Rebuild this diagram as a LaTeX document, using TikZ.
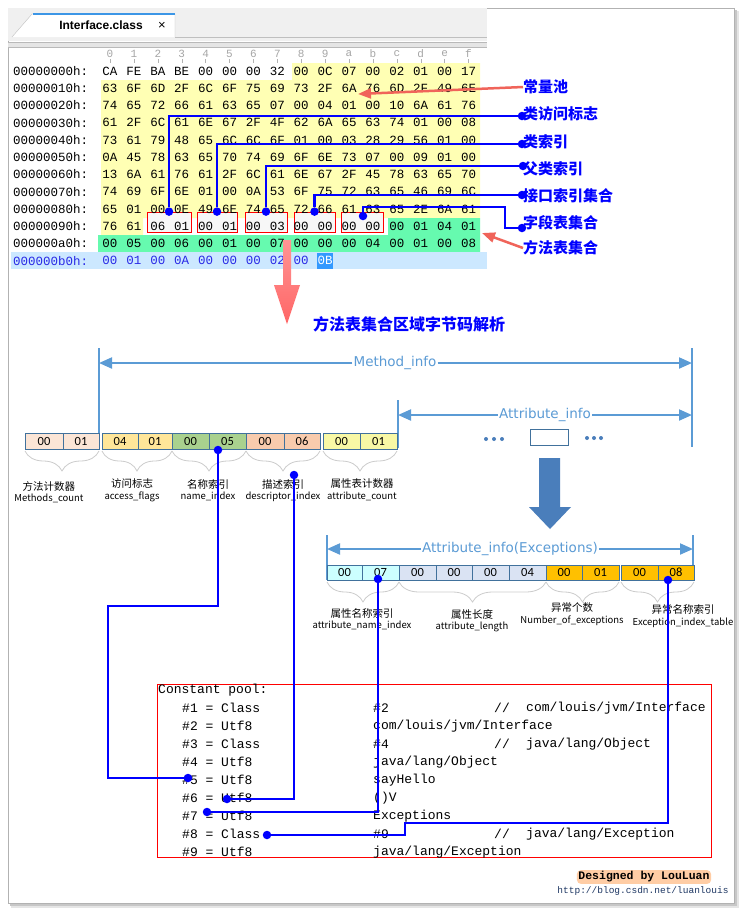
\documentclass[tikz,border=0pt]{standalone}
\usepackage{fontspec}
\setmainfont{Liberation Sans}
\newfontfamily\hexfont{Liberation Mono}
\newfontfamily\cjkfont{Noto Sans CJK SC}
\newfontfamily\boxfont{Carlito}
\newfontfamily\infofont{DejaVu Sans}
\usetikzlibrary{arrows.meta,decorations.pathreplacing,positioning}

\definecolor{hexyellow}{RGB}{255,255,180}
\definecolor{hexgreen}{RGB}{102,250,175}
\definecolor{hexrowblue}{RGB}{204,232,255}
\definecolor{hextextblue}{RGB}{40,40,230}
\definecolor{selblue}{RGB}{51,153,255}
\definecolor{tabblue}{RGB}{60,150,230}
\definecolor{linkblue}{RGB}{0,0,255}
\definecolor{pointred}{RGB}{240,100,90}
\definecolor{arrowred}{RGB}{255,102,102}
\definecolor{arrowblue}{RGB}{74,126,187}
\definecolor{infoblue}{RGB}{91,155,213}
\definecolor{boxedge}{RGB}{65,113,156}
\definecolor{peach}{RGB}{251,229,214}
\definecolor{flagyellow}{RGB}{255,230,153}
\definecolor{namegreen}{RGB}{169,209,142}
\definecolor{descsalmon}{RGB}{248,203,173}
\definecolor{countyellow}{RGB}{248,248,165}
\definecolor{attrcyan}{RGB}{204,255,255}
\definecolor{lenlav}{RGB}{218,227,243}
\definecolor{excgold}{RGB}{255,192,0}
\definecolor{glow}{RGB}{255,205,165}
\definecolor{urlblue}{RGB}{31,56,100}

\begin{document}
\begin{tikzpicture}[x=1pt,y=-1pt,
  hex addr/.style={anchor=west,inner sep=0pt,font=\hexfont\fontsize{12.5}{12.5}\selectfont},
  hex byte/.style={inner sep=0pt,font=\hexfont\fontsize{12.5}{12.5}\selectfont},
  hex head/.style={inner sep=0pt,text=gray!70,font=\hexfont\fontsize{11}{11}\selectfont},
  red box/.style={draw=red,line width=0.8pt,fill=gray!6,minimum height=20pt,inner sep=0pt},
  side label/.style={anchor=west,inner sep=0pt,text=linkblue,font=\cjkfont\bfseries\fontsize{15}{15}\selectfont},
  link/.style={draw=linkblue,line width=2.2pt},
  link dot/.style={circle,fill=linkblue,inner sep=0pt,minimum size=8.5pt},
  red pointer/.style={draw=pointred,line width=2.5pt,-{Triangle[length=13pt,width=10pt]}},
  byte box/.style={draw=boxedge,line width=0.8pt,minimum height=16pt,inner sep=0pt,font=\boxfont\fontsize{12.5}{12.5}\selectfont},
  info line/.style={draw=infoblue,line width=2pt},
  info arrow/.style={info line,-{Triangle[length=13pt,width=11pt]}},
  info label/.style={fill=white,inner sep=1pt,text=infoblue,font=\infofont\fontsize{13.5}{13.5}\selectfont},
  field brace/.style={draw=gray!40,line width=0.8pt,decorate,decoration={brace,mirror,amplitude=20pt,aspect=0.5}},
  cn label/.style={inner sep=0pt,font=\cjkfont\fontsize{10.5}{10.5}\selectfont},
  en label/.style={inner sep=0pt,font=\cjkfont\fontsize{9.5}{9.5}\selectfont},
  more dot/.style={circle,fill=arrowblue,inner sep=0pt,minimum size=4pt},
  pool text/.style={anchor=west,inner sep=0pt,font=\hexfont\fontsize{13}{13}\selectfont}
]

% page with shadow
\fill[white] (0,0) rectangle (744,914);
\fill[black!10] (11,11) rectangle (739,908);
\fill[black!22] (10,10) rectangle (737,906);
\filldraw[fill=white,draw=gray!60] (8,8) rectangle (734,903);
\useasboundingbox (0,0) rectangle (744,914);

% hex editor window
\fill[gray!12] (8,8) rectangle (487,41);
\filldraw[fill=white,draw=gray!50] (12,37) -- (32,14) -- (175,14) -- (175,37);
\draw[tabblue,line width=1.5pt] (33,14) -- (175,14);
\draw[gray!50] (175,37) -- (487,37);
\node[font=\bfseries\fontsize{12}{12}\selectfont] (tab) at (101,25) {Interface.class};
\node[font=\fontsize{13}{13}\selectfont] (tabClose) at (162,26) {×};
\fill[gray!20] (8,42) rectangle (487,47);
\draw[gray!55] (8,42) -- (487,42) (8,47) -- (487,47);

% column header
\foreach \d [count=\c from 0] in {0,1,2,3,4,5,6,7,8,9,a,b,c,d,e,f}
{
  \node[hex head] (col\c) at ({110+23.9*\c},54) {\d};
  \draw[gray!60] ({110+23.9*\c},59) -- ++(0,4);
}

% regions
\fill[hexyellow] (292,63) -- (480,63) -- (480,218) -- (143,218) -- (143,235) -- (101,235) -- (101,80) -- (292,80) -- cycle;
\fill[hexgreen] (388,218) -- (480,218) -- (480,252) -- (98,252) -- (98,235) -- (388,235) -- cycle;
\fill[hexrowblue] (11,252) rectangle (487,269);
\fill[selblue] (317,252.5) rectangle (333,268.5);

% marked fields
\node[red box,minimum width=44pt] (rAcc) at (169,222) {};
\node[red box,minimum width=40pt] (rThis) at (217,222) {};
\node[red box,minimum width=42pt] (rSuper) at (266,222) {};
\node[red box,minimum width=41pt] (rIface) at (314.5,222) {};
\node[red box,minimum width=42pt] (rField) at (362,222) {};

% bytes
\foreach \r/\addr/\tc/\bytes in {
  0/00000000h:/black/{CA,FE,BA,BE,00,00,00,32,00,0C,07,00,02,01,00,17},
  1/00000010h:/black/{63,6F,6D,2F,6C,6F,75,69,73,2F,6A,76,6D,2F,49,6E},
  2/00000020h:/black/{74,65,72,66,61,63,65,07,00,04,01,00,10,6A,61,76},
  3/00000030h:/black/{61,2F,6C,61,6E,67,2F,4F,62,6A,65,63,74,01,00,08},
  4/00000040h:/black/{73,61,79,48,65,6C,6C,6F,01,00,03,28,29,56,01,00},
  5/00000050h:/black/{0A,45,78,63,65,70,74,69,6F,6E,73,07,00,09,01,00},
  6/00000060h:/black/{13,6A,61,76,61,2F,6C,61,6E,67,2F,45,78,63,65,70},
  7/00000070h:/black/{74,69,6F,6E,01,00,0A,53,6F,75,72,63,65,46,69,6C},
  8/00000080h:/black/{65,01,00,0E,49,6E,74,65,72,66,61,63,65,2E,6A,61},
  9/00000090h:/black/{76,61,06,01,00,01,00,03,00,00,00,00,00,01,04,01},
  10/000000a0h:/black/{00,05,00,06,00,01,00,07,00,00,00,04,00,01,00,08},
  11/000000b0h:/hextextblue/{00,01,00,0A,00,00,00,02,00}}
{
  \node[hex addr,text=\tc] (a\r) at (13,{71+17.25*\r}) {\addr};
  \foreach \b [count=\c from 0] in \bytes
    \node[hex byte,text=\tc] (h\r-\c) at ({110+23.9*\c},{71+17.25*\r}) {\b};
}
\node[hex byte,text=white] (h11-9) at ({110+23.9*9},{71+17.25*11}) {0B};

% labels on the right
\foreach \nm/\yy/\txt in {lPool/87/常量池, lAcc/114/类访问标志, lThis/142/类索引,
  lSuper/169/父类索引, lIface/196/接口索引集合, lField/223/字段表集合, lMethod/248/方法表集合}
  \node[side label] (\nm) at (523,\yy) {\txt};

\coordinate (poolTip) at (358,94);
\coordinate (methodTip) at (482,233);
\draw[red pointer] (lPool.west) -- (poolTip);
\draw[red pointer] (lMethod.west) -- (methodTip);

\node[link dot] (dAcc) at (rAcc.north) {};
\node[link dot] (dThis) at (rThis.north) {};
\node[link dot] (dSuper) at (rSuper.north) {};
\node[link dot] (dIface) at (rIface.north) {};
\node[link dot] (dField) at (363,216) {};
\node[link dot] (pAcc) at (522,116) {};
\node[link dot] (pThis) at (522,144) {};
\node[link dot] (pSuper) at (523,166) {};
\node[link dot] (pIface) at (522,195) {};
\node[link dot] (pField) at (522,228) {};
\coordinate (bendC) at (505,207);

\draw[link] (dAcc) |- (pAcc);
\draw[link] (dThis) |- (pThis);
\draw[link] (dSuper) |- (pSuper);
\draw[link] (dIface) |- (pIface);
\draw[link] (dField) |- (bendC) |- (pField);

% big arrow down
\shade[top color=arrowred!70,bottom color=arrowred] (283,240) -- (291,240) -- (291,285) -- (300,285) -- (287,324) -- (274,285) -- (283,285) -- cycle;
\node[text=linkblue,font=\cjkfont\bfseries\fontsize{16}{16}\selectfont] (title) at (409,324) {方法表集合区域字节码解析};

% method_info
\coordinate (miL) at (99,348);
\coordinate (miR) at (692,348);
\coordinate (aiL) at (398,400);
\draw[info line] (miL) -- ++(0,102);
\draw[info line] (miR) -- ++(0,99);
\draw[info line] (aiL) -- ++(0,48);
\node[info label] (miLabel) at (395,363) {Method\_info};
\draw[info arrow] (miLabel) -- (miL |- miLabel);
\draw[info arrow] (miLabel) -- (miR |- miLabel);
\node[info label] (aiLabel) at (545,415) {Attribute\_info};
\draw[info arrow] (aiLabel) -- (aiL |- aiLabel);
\draw[info arrow] (aiLabel) -- (miR |- aiLabel);

\foreach \nm/\xa/\xb/\txt/\col in {mc0/25/63/00/peach, mc1/63/99/01/peach,
  af0/102/138/04/flagyellow, af1/138/172/01/flagyellow,
  ni0/172/209/00/namegreen, ni1/209/246/05/namegreen,
  di0/246/284/00/descsalmon, di1/284/320/06/descsalmon,
  ac0/323/360/00/countyellow, ac1/360/397/01/countyellow}
  \node[byte box,fill=\col,minimum width=\xb-\xa] (\nm) at ({(\xa+\xb)/2},441) {\txt};

\foreach \xx in {486,494,502}
  \node[more dot] (moreA\xx) at (\xx,439) {};
\node[draw=boxedge,fill=white,line width=0.8pt,minimum width=38pt,minimum height=16pt] (attrBox) at (549,437) {};
\foreach \xx in {587,594,601}
  \node[more dot] (moreB\xx) at (\xx,438) {};

\foreach \xa/\xb in {25/99, 102/172, 172/246, 246/320, 323/397}
  \draw[field brace] (\xa,451) -- (\xb,451);

\foreach \nm/\xx/\yy/\cn/\en in {mc/49/486/方法计数器/Methods\_count,
  af/132/484/访问标志/access\_flags, ni/208/484/名称索引/name\_index,
  di/283/484/描述索引/descriptor\_index, ac/362/484/属性表计数器/attribute\_count}
{
  \node[cn label] (\nm Cn) at (\xx,\yy) {\cn};
  \node[en label,below=3pt of \nm Cn] (\nm En) {\en};
}

% arrow to exceptions attribute
\fill[arrowblue] (539,458) -- (560,458) -- (560,507) -- (571,507) -- (550,529) -- (529,507) -- (539,507) -- cycle;

% Exceptions attribute
\coordinate (exL) at (327,535);
\coordinate (exR) at (693,535);
\draw[info line] (exL) -- ++(0,45);
\draw[info line] (exR) -- ++(0,45);
\node[info label] (exLabel) at (510,549) {Attribute\_info(Exceptions)};
\draw[info arrow] (exLabel) -- (exL |- exLabel);
\draw[info arrow] (exLabel) -- (exR |- exLabel);

\foreach \nm/\xa/\xb/\txt/\col in {an0/327/362/00/attrcyan, an1/362/399/07/attrcyan,
  al0/399/436/00/lenlav, al1/436/472/00/lenlav, al2/472/509/00/lenlav, al3/509/546/04/lenlav,
  ne0/546/582/00/excgold, ne1/582/619/01/excgold,
  ei0/621/658/00/excgold, ei1/658/694/08/excgold}
  \node[byte box,fill=\col,minimum width=\xb-\xa,minimum height=15pt] (\nm) at ({(\xa+\xb)/2},572.5) {\txt};

\foreach \xa/\xb in {327/399, 399/546, 546/619, 621/694}
  \draw[field brace] (\xa,582) -- (\xb,582);

\foreach \nm/\xx/\yy/\cn/\en in {an/362/613/属性名称索引/attribute\_name\_index,
  al/472/614/属性长度/attribute\_length, ne/572/608/异常个数/Number\_of\_exceptions,
  ei/683/610/异常名称索引/Exception\_index\_table}
{
  \node[cn label] (\nm Cn) at (\xx,\yy) {\cn};
  \node[en label,below=3pt of \nm Cn] (\nm En) {\en};
}

% constant pool
\node[draw=red,line width=0.8pt,minimum width=554pt,minimum height=173pt,inner sep=0pt] (pool) at (434,770.5) {};
\node[pool text] (cpHead) at (158,690) {Constant pool:};
\foreach \i/\kind/\val in {1/Class/{\#2}, 2/Utf8/{com/louis/jvm/Interface}, 3/Class/{\#4},
  4/Utf8/{java/lang/Object}, 5/Utf8/{sayHello}, 6/Utf8/{()V}, 7/Utf8/{Exceptions},
  8/Class/{\#9}, 9/Utf8/{java/lang/Exception}}
{
  \node[pool text] (cp\i) at (182,{690+18*\i}) {\#\i\ = \kind};
  \node[pool text] (cv\i) at (373,{690+18*\i}) {\val};
}
\foreach \i/\cmt in {1/{com/louis/jvm/Interface}, 3/{java/lang/Object}, 8/{java/lang/Exception}}
{
  \node[pool text] (cs\i) at (494,{690+18*\i}) {//};
  \node[pool text] (cc\i) at (526,{690+18*\i}) {\cmt};
}

% links into the pool
\node[link dot] (dName) at (218,450) {};
\node[link dot] (dDesc) at (294,475) {};
\node[link dot] (dAttrName) at (378,579) {};
\node[link dot] (dExc) at (668,580) {};
\node[link dot] (dCp5) at (188,778) {};
\node[link dot] (dCp6) at (227,799) {};
\node[link dot] (dCp7) at (207,812) {};
\node[link dot] (dCp8) at (267,835) {};
\coordinate (bendA) at (108,606);
\coordinate (bendB) at (405,823);

\draw[link] (dName) |- (bendA) |- (dCp5);
\draw[link] (dDesc) |- (dCp6);
\draw[link] (dAttrName) |- (dCp7);
\draw[link] (dExc) |- (bendB) |- (dCp8);

% signature
\node[font=\hexfont\bfseries\fontsize{11.5}{11.5}\selectfont,fill=glow,rounded corners=4pt,inner sep=1.5pt] (sign) at (644,877) {Designed by LouLuan};
\node[font=\hexfont\fontsize{9.5}{9.5}\selectfont,text=urlblue] (url) at (643,891) {http://blog.csdn.net/luanlouis};

\end{tikzpicture}
\end{document}
